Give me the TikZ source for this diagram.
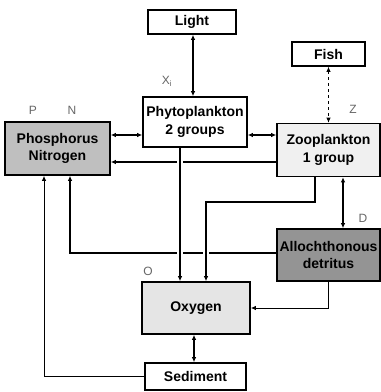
\documentclass[tikz,border=0pt]{standalone}
\usepackage{fontspec}
\setmainfont{Liberation Sans}
\usetikzlibrary{arrows.meta}
\begin{document}
\begin{tikzpicture}[x=1pt,y=-1pt,
  box/.style={draw, line width=1.6pt, inner sep=0pt, align=center,
    font=\fontsize{14}{17.5}\selectfont\bfseries},
  link/.style={line width=1.3pt, -{Latex[length=5pt,width=4.5pt]}},
  thinlink/.style={line width=0.9pt, -{Latex[length=5pt,width=4.5pt]}},
  both/.style={line width=1.3pt, {Latex[length=5pt,width=4.5pt]}-{Latex[length=5pt,width=4.5pt]}},
  bridge/.style={preaction={draw=white, line width=6pt, -, shorten <=6pt, shorten >=6pt}},
  lbl/.style={font=\fontsize{12}{12}\selectfont, text=black!60}
]
\useasboundingbox (0,0) rectangle (381,392);

% boxes
\node[box, minimum width=88pt, minimum height=24pt] (light) at (192,22) {Light};
\node[box, minimum width=104pt, minimum height=50pt] (phyto) at (195,122) {Phytoplankton\\2 groups};
\node[box, minimum width=73pt, minimum height=24pt] (fish) at (328.5,54) {Fish};
\node[box, fill=black!6, minimum width=103pt, minimum height=53pt] (zoo) at (328.5,150) {Zooplankton\\1 group};
\node[box, fill=black!25, minimum width=105pt, minimum height=53pt] (phos) at (57.5,148.5) {Phosphorus\\Nitrogen};
\node[box, fill=black!42, minimum width=103pt, minimum height=52pt] (alloch) at (328.5,255) {Allochthonous\\detritus};
\node[box, fill=black!10, minimum width=108pt, minimum height=52pt] (oxygen) at (196,308) {Oxygen};
\node[box, minimum width=101pt, minimum height=27pt] (sediment) at (195.5,376.5) {Sediment};

% labels
\node[lbl] (lx) at (167,81) {X\textsubscript{i}};
\node[lbl] (lp) at (33,110) {P};
\node[lbl] (ln) at (72,110) {N};
\node[lbl] (lz) at (353,109) {Z};
\node[lbl] (ld) at (363,218) {D};
\node[lbl] (lo) at (148,271) {O};

% helper coordinates
\coordinate (xl) at (193,0);
\coordinate (xa) at (180,0);
\coordinate (xb) at (206,0);
\coordinate (xc) at (315,0);
\coordinate (xd) at (343,0);
\coordinate (xe) at (70,0);
\coordinate (xf) at (44,0);
\coordinate (xs) at (194,0);
\coordinate (y1) at (0,135);
\coordinate (y2) at (0,162);
\coordinate (y3) at (0,202);
\coordinate (y4) at (0,253);

% connectors
\draw[both] (light.south -| xl) -- (phyto.north -| xl);
\draw[both] (phos.east |- y1) -- (phyto.west |- y1);
\draw[both] (phyto.east |- y1) -- (zoo.west |- y1);
\draw[line width=0.8pt, dashed, {Latex[length=5pt,width=4.5pt]}-{Latex[length=5pt,width=4.5pt]}] (fish.south) -- (zoo.north);
\draw[link] (zoo.west |- y2) -- (phos.east |- y2);
\draw[both] (zoo.south -| xd) -- (alloch.north -| xd);
\draw[link] (alloch.west |- y4) -- (xe |- y4) -- (phos.south -| xe);
\draw[link, bridge] (phyto.south -| xa) -- (oxygen.north -| xa);
\draw[link, bridge] (zoo.south -| xc) -- (xc |- y3) -- (xb |- y3) -- (oxygen.north -| xb);
\draw[thinlink] (alloch.south) |- (oxygen.east);
\draw[both] (oxygen.south -| xs) -- (sediment.north -| xs);
\draw[thinlink] (sediment.west) -- (xf |- sediment.west) -- (phos.south -| xf);
\end{tikzpicture}
\end{document}
